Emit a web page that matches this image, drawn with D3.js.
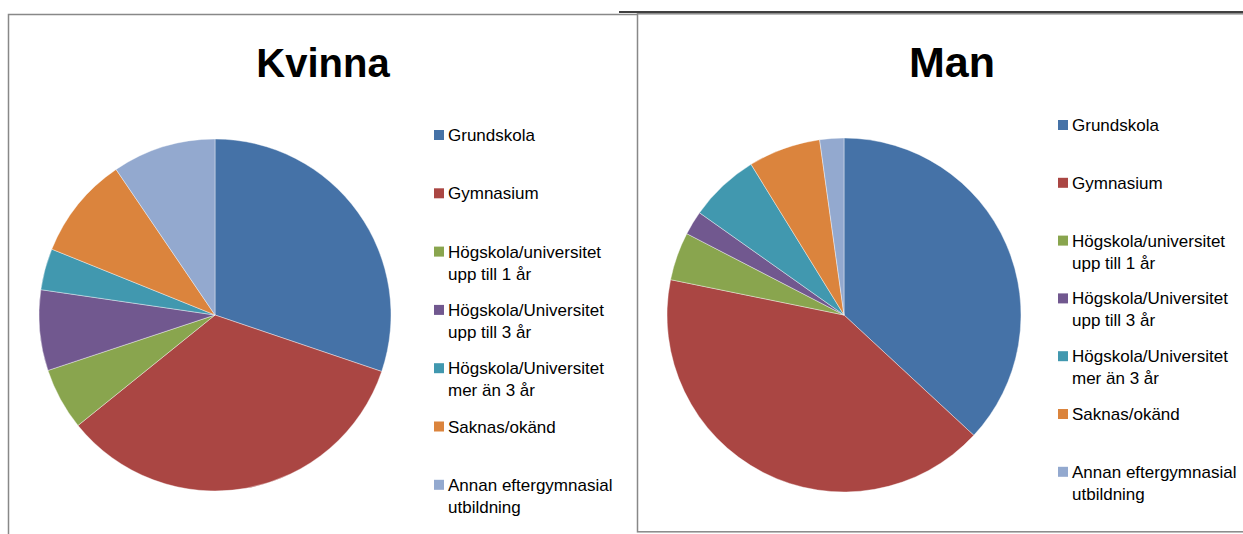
<!DOCTYPE html>
<html>
<head>
<meta charset="utf-8">
<script src="https://cdn.jsdelivr.net/npm/d3@7"></script>
<style>
  body { margin: 0; background: #fff; }
  svg { display: block; }
  text { font-family: 'Liberation Sans', Arial, sans-serif; fill: #000; }
</style>
</head>
<body>
<div id="chart"></div>
<script>
// categories (legend order = slice order)
const categories = [
  'Grundskola',
  'Gymnasium',
  'Högskola/universitet|upp till 1 år',
  'Högskola/Universitet|upp till 3 år',
  'Högskola/Universitet|mer än 3 år',
  'Saknas/okänd',
  'Annan eftergymnasial|utbildning'
];
// percentages
const kvinnaValues = [30.2, 34.0, 5.7, 7.4, 3.8, 9.4, 9.5];
const manValues = [36.9, 41.3, 4.4, 2.2, 6.4, 6.6, 2.2];

const colors = ['#4572A7', '#AA4643', '#89A54E', '#71588F', '#4198AF', '#DB843D', '#93A9CF'];

const width = 1243;
const height = 534;

const svg = d3
  .select('#chart')
  .append('svg')
  .attr('width', width)
  .attr('height', height);

const color = d3.scaleOrdinal().domain(categories).range(colors);

//frames (left one only shows top + left edge)
svg.append('path')
  .attr('d', 'M8.5,540V14.5H637')
  .attr('fill', 'none').attr('stroke', '#888').attr('stroke-width', 1.5);

svg.append('line')
  .attr('x1', 619).attr('x2', width)
  .attr('y1', 12).attr('y2', 12)
  .attr('stroke', '#000').attr('stroke-width', 1.5);

svg.append('rect')
  .attr('x', 637.5).attr('y', 13.8)
  .attr('width', 700).attr('height', 518)
  .attr('fill', '#fff').attr('stroke', '#888').attr('stroke-width', 1.5);

const drawChart = (title, values, opts) => {
  const g = svg.append('g');

  g.append('text')
    .attr('x', opts.titleX)
    .attr('y', 77)
    .attr('text-anchor', 'middle')
    .style('font-size', opts.titleSize)
    .style('font-weight', 'bold')
    .text(title);

  const pie = d3.pie().sort(null).value(d => d.v);
  const arc = d3.arc().innerRadius(0).outerRadius(opts.r);
  const data = categories.map((c, i) => ({ c: c, v: values[i] }));

  g.append('g')
    .attr('transform', `translate(${opts.cx},${opts.cy})`)
    .selectAll('path')
    .data(pie(data))
    .enter()
    .append('path')
    .attr('d', arc)
    .attr('fill', d => color(d.data.c))
    .attr('stroke', '#fff')
    .attr('stroke-width', 0.4);

  //legend
  const legend = g.append('g');
  const item = legend
    .selectAll('g')
    .data(categories)
    .enter()
    .append('g')
    .attr('transform', (d, i) => `translate(${opts.lx},${opts.ly + i * opts.step})`);

  item.append('rect')
    .attr('x', 0).attr('y', -5)
    .attr('width', 10).attr('height', 10)
    .attr('fill', d => color(d));

  item.append('text')
    .attr('x', 14)
    .attr('y', 6)
    .style('font-size', '17px')
    .selectAll('tspan')
    .data(d => d.split('|'))
    .enter()
    .append('tspan')
    .attr('x', 14)
    .attr('dy', (d, i) => (i === 0 ? 0 : 22))
    .text(d => d);
};

drawChart('Kvinna', kvinnaValues, { cx: 215, cy: 315, r: 176, titleX: 323, titleSize: '40px', lx: 434, ly: 135, step: 58.3 });
drawChart('Man', manValues, { cx: 844, cy: 315, r: 177, titleX: 952, titleSize: '43px', lx: 1058, ly: 125, step: 57.8 });
</script>
</body>
</html>
